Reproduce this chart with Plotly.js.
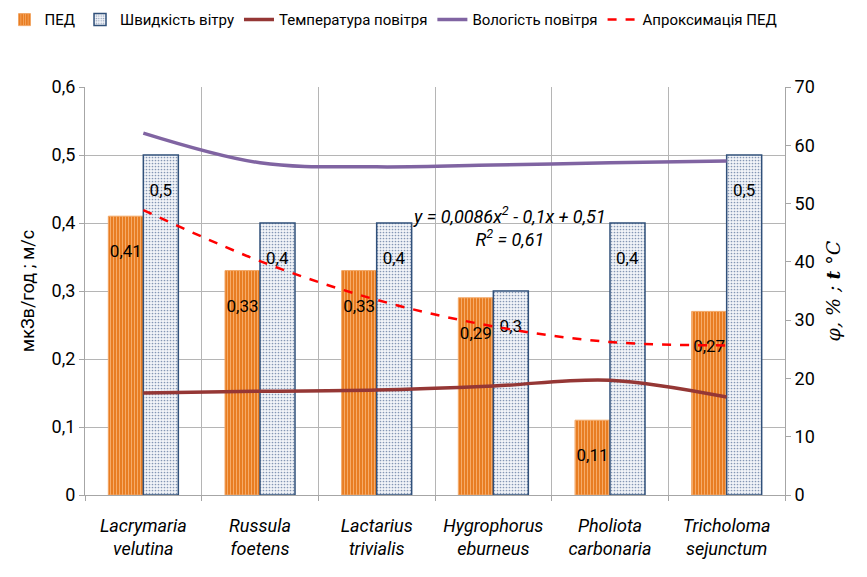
<!DOCTYPE html>
<html><head><meta charset="utf-8">
<script src="https://cdn.plot.ly/plotly-3.0.1.min.js"></script>
<style>body{margin:0;background:#fff}#chart{width:867px;height:577px}</style>
</head><body><div id="chart"></div>
<script>
const categories = ['Lacrymaria<br>velutina','Russula<br>foetens','Lactarius<br>trivialis','Hygrophorus<br>eburneus','Pholiota<br>carbonaria','Tricholoma<br>sejunctum'];
const ped = [0.41, 0.33, 0.33, 0.29, 0.11, 0.27];
const wind = [0.5, 0.4, 0.4, 0.3, 0.4, 0.5];
const temperature = [17.5, 17.8, 18.0, 18.7, 19.7, 16.8];
const humidity = [62.1, 57.0, 56.3, 56.6, 57.0, 57.3];
const trendPed = [0.419, 0.344, 0.287, 0.248, 0.225, 0.220];
const legendNames = ['ПЕД','Швидкість вітру','Температура повітря','Вологість повітря','Апроксимація ПЕД'];

const FONT = 'Roboto, "Liberation Sans", sans-serif';
const fmt = v => '\u00a0<br>' + String(v).replace('.', ',');

const traces = [
  {type:'bar', name:legendNames[0], x:categories, y:ped, text:ped.map(fmt),
   textposition:'inside', insidetextanchor:'end', textangle:0, constraintext:'none',
   textfont:{size:17, color:'#000', family:FONT},
   marker:{color:'#EC8A34', line:{color:'#F2A766', width:1},
     pattern:{shape:'|', fgcolor:'#F7B070', bgcolor:'#E87D22', size:3, solidity:0.3}},
   hoverinfo:'skip'},
  {type:'bar', name:legendNames[1], x:categories, y:wind, text:wind.map(fmt),
   textposition:'inside', insidetextanchor:'end', textangle:0, constraintext:'none',
   textfont:{size:17, color:'#000', family:FONT},
   marker:{color:'#E9EDF3', line:{color:'#30507A', width:1.5},
     pattern:{shape:'.', fgcolor:'#8496B4', bgcolor:'#F2F4F8', size:3, solidity:0.25}},
   hoverinfo:'skip'},
  {type:'scatter', mode:'lines', name:legendNames[2], x:categories, y:temperature, yaxis:'y2',
   line:{color:'#953735', width:3.5, shape:'spline', smoothing:1}, hoverinfo:'skip'},
  {type:'scatter', mode:'lines', name:legendNames[3], x:categories, y:humidity, yaxis:'y2',
   line:{color:'#8064A2', width:3.5, shape:'spline', smoothing:1}, hoverinfo:'skip'},
  {type:'scatter', mode:'lines', name:legendNames[4], x:categories, y:trendPed,
   line:{color:'#FF0000', width:2.5, dash:'dash', shape:'spline', smoothing:1}, hoverinfo:'skip'}
];

const layout = {
  width:867, height:577,
  margin:{l:85, r:82, t:87, b:82, autoexpand:false},
  paper_bgcolor:'#fff', plot_bgcolor:'#fff',
  separators:', ',
  font:{family:FONT, size:17, color:'#000'},
  barmode:'group', bargap:0.4, bargroupgap:0,
  showlegend:true,
  legend:{orientation:'h', x:-0.115, y:1.205, xanchor:'left', yanchor:'top',
    font:{size:15, family:FONT}, itemwidth:30, traceorder:'normal', tracegroupgap:0},
  xaxis:{type:'category', tickson:'boundaries', showgrid:true, gridcolor:'#B5B5B5', gridwidth:1,
    showline:true, linecolor:'#A6A6A6', ticks:'outside', ticklen:5, tickcolor:'#A6A6A6',
    ticklabelstandoff:14,
    tickfont:{size:18, family:FONT, style:'italic'}, fixedrange:true},
  yaxis:{range:[0,0.6], dtick:0.1, tick0:0, showgrid:true, gridcolor:'#B5B5B5', gridwidth:1,
    showline:true, linecolor:'#A6A6A6', ticks:'outside', ticklen:5, tickcolor:'#A6A6A6',
    tickfont:{size:18, family:FONT}, zeroline:false,
    title:{text:'мкЗв/год ; м/с', font:{size:18, family:FONT}, standoff:12}},
  yaxis2:{overlaying:'y', side:'right', range:[0,70], dtick:10, tick0:0, showgrid:false,
    showline:true, linecolor:'#A6A6A6', ticks:'outside', ticklen:5, tickcolor:'#A6A6A6',
    tickfont:{size:18, family:FONT}, zeroline:false,
    title:{text:'<i>φ, % ; <b>t</b> °C</i>', font:{size:19, family:'"DejaVu Serif", "Liberation Serif", serif'}, standoff:12}},
  annotations:[{xref:'paper', yref:'paper', x:0.607, y:0.657, xanchor:'center', yanchor:'middle',
    showarrow:false, align:'center',
    text:'<i>y = 0,0086x<sup>2</sup> - 0,1x + 0,51</i><br><i>R<sup>2</sup> = 0,61</i>',
    font:{size:18, family:FONT}}]
};

Plotly.newPlot('chart', traces, layout, {staticPlot:true});
</script></body></html>
